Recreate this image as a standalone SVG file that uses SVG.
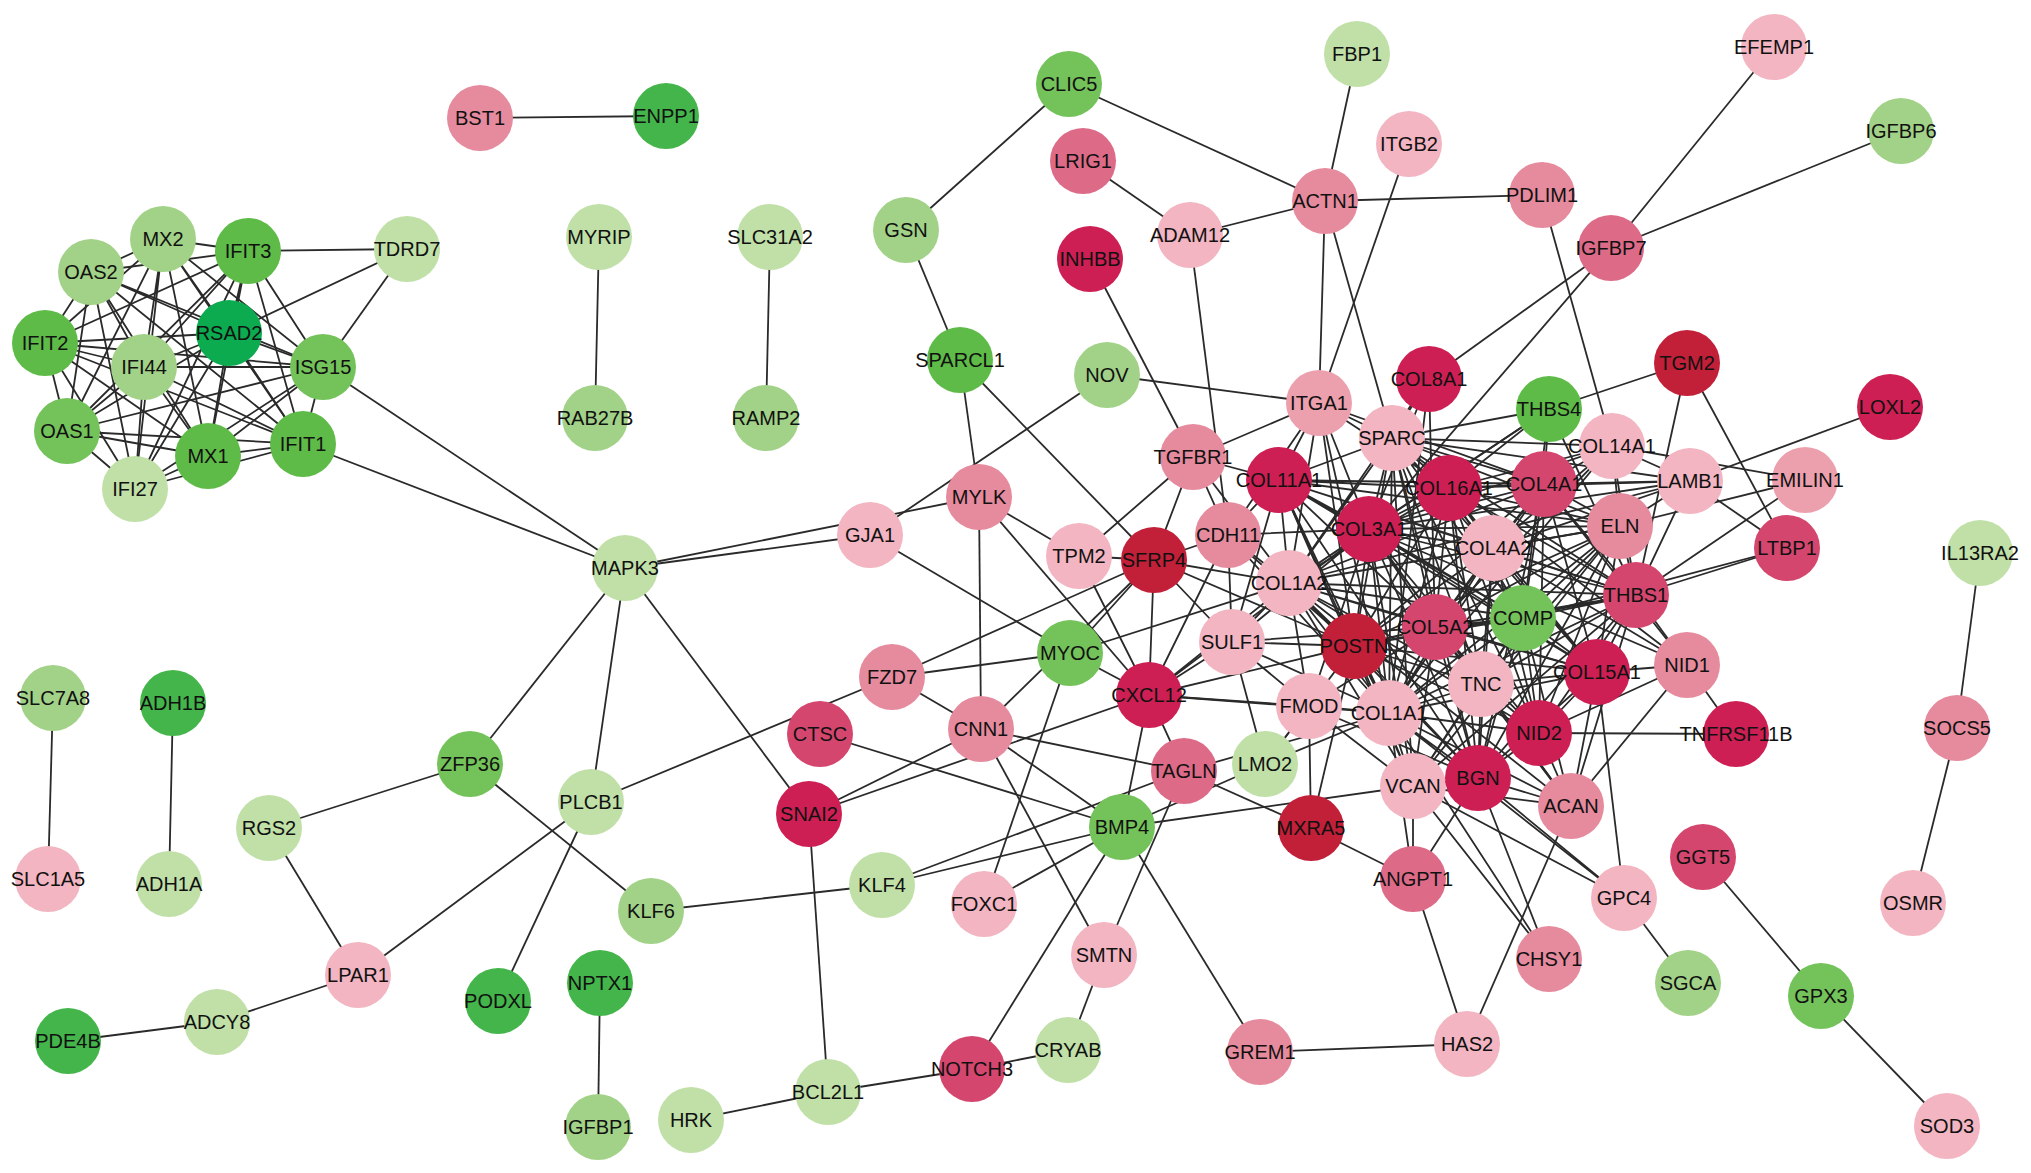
<svg xmlns="http://www.w3.org/2000/svg" width="2031" height="1173" viewBox="0 0 2031 1173">
<style>
#edges path{stroke:#2a2a2a;stroke-width:1.8;fill:none}
.node text{font-family:"Liberation Sans",Arial,sans-serif;font-size:20px;text-anchor:middle;fill:#111}
.g1{fill:#0cab4f}.g2{fill:#43b54a}.g3{fill:#5ebb48}.g4{fill:#74c25a}.g5{fill:#a2d287}.g6{fill:#c0e0a8}
.p1{fill:#f2b5c1}.pb{fill:#eca0ae}.p2{fill:#e68a9d}.p3{fill:#dd6b88}.p4{fill:#d4466d}.p5{fill:#cd1f53}.p6{fill:#c21f38}
</style>
<rect width="2031" height="1173" fill="#fff"/>
<g id="edges">
<path d="M480 118L666 116"/><path d="M599 237L595 418"/><path d="M770 237L766 418"/><path d="M53 698L48 879"/><path d="M173 703L169 884"/><path d="M600 983L598 1127"/><path d="M1980 553L1957 728"/><path d="M1957 728L1913 903"/><path d="M1703 857L1821 996"/><path d="M1821 996L1947 1126"/><path d="M1624 898L1688 983"/>
<path d="M906 230L1069 84"/><path d="M906 230L960 360"/><path d="M1069 84L1325 201"/><path d="M1357 54L1325 201"/><path d="M1083 161L1190 235"/><path d="M1190 235L1325 201"/><path d="M1325 201L1542 195"/><path d="M1409 144L1319 403"/><path d="M1325 201L1319 403"/><path d="M1325 201L1392 438"/><path d="M1090 259L1193 457"/><path d="M1190 235L1228 535"/><path d="M1107 375L1319 403"/><path d="M1107 375L870 535"/>
<path d="M1429 379L1611 248"/><path d="M1611 248L1369 529"/><path d="M1611 248L1774 47"/><path d="M1611 248L1901 131"/><path d="M1542 195L1612 446"/><path d="M1687 363L1549 409"/><path d="M1687 363L1636 595"/><path d="M1687 363L1787 548"/><path d="M1890 407L1690 481"/><path d="M1612 446L1805 480"/><path d="M1612 446L1690 481"/><path d="M1805 480L1620 526"/><path d="M1805 480L1636 595"/><path d="M1690 481L1787 548"/><path d="M1636 595L1787 548"/><path d="M1523 618L1787 548"/><path d="M1687 665L1736 734"/><path d="M1539 733L1736 734"/><path d="M1597 672L1687 665"/><path d="M1636 595L1687 665"/><path d="M1687 665L1539 733"/><path d="M1687 665L1571 806"/><path d="M1597 672L1624 898"/>
<path d="M625 568L323 367"/><path d="M625 568L303 444"/><path d="M625 568L870 535"/><path d="M625 568L979 497"/><path d="M625 568L470 764"/><path d="M625 568L591 802"/><path d="M625 568L809 814"/><path d="M870 535L1070 653"/><path d="M979 497L960 360"/><path d="M979 497L981 729"/><path d="M960 360L1154 560"/><path d="M979 497L1079 556"/><path d="M979 497L1149 695"/><path d="M892 677L1070 653"/><path d="M892 677L1154 560"/><path d="M892 677L981 729"/><path d="M591 802L892 677"/><path d="M820 734L1122 827"/><path d="M981 729L809 814"/><path d="M981 729L1104 955"/><path d="M981 729L1184 771"/><path d="M981 729L1122 827"/><path d="M981 729L1154 560"/>
<path d="M470 764L269 828"/><path d="M470 764L651 911"/><path d="M269 828L358 975"/><path d="M358 975L591 802"/><path d="M358 975L217 1022"/><path d="M217 1022L68 1041"/><path d="M591 802L498 1001"/><path d="M651 911L882 885"/><path d="M882 885L1122 827"/><path d="M882 885L1184 771"/><path d="M809 814L828 1092"/><path d="M828 1092L691 1120"/><path d="M828 1092L972 1069"/><path d="M972 1069L1122 827"/><path d="M1104 955L1068 1050"/><path d="M1068 1050L972 1069"/><path d="M1122 827L1260 1052"/><path d="M1260 1052L1467 1044"/><path d="M1467 1044L1413 879"/><path d="M1467 1044L1571 806"/><path d="M1311 828L1413 879"/><path d="M1413 879L1478 778"/><path d="M1413 879L1413 786"/><path d="M1122 827L1413 786"/><path d="M984 904L1122 827"/><path d="M984 904L1070 653"/><path d="M809 814L1149 695"/><path d="M1122 827L1149 695"/><path d="M1122 827L1265 764"/><path d="M1104 955L1184 771"/><path d="M1311 828L1309 706"/><path d="M1311 828L1354 646"/><path d="M1184 771L1311 828"/>
<path d="M407 249L248 251"/><path d="M407 249L229 333"/><path d="M407 249L323 367"/>
<path d="M163 239L248 251M163 239L91 272M163 239L229 333M163 239L45 343M163 239L144 367M163 239L323 367M163 239L67 431M163 239L208 456M163 239L303 444M163 239L135 489"/>
<path d="M248 251L91 272M248 251L229 333M248 251L45 343M248 251L144 367M248 251L323 367M248 251L67 431M248 251L208 456M248 251L303 444M248 251L135 489"/>
<path d="M91 272L229 333M91 272L45 343M91 272L144 367M91 272L323 367M91 272L67 431M91 272L208 456M91 272L303 444M91 272L135 489"/>
<path d="M229 333L45 343M229 333L144 367M229 333L323 367M229 333L67 431M229 333L208 456M229 333L303 444M229 333L135 489"/>
<path d="M45 343L144 367M45 343L323 367M45 343L67 431M45 343L208 456M45 343L303 444M45 343L135 489"/>
<path d="M144 367L323 367M144 367L67 431M144 367L208 456M144 367L303 444M144 367L135 489"/>
<path d="M323 367L67 431M323 367L208 456M323 367L303 444M323 367L135 489"/>
<path d="M67 431L208 456M67 431L303 444M67 431L135 489M208 456L303 444M208 456L135 489M303 444L135 489"/>
<path d="M1389 713L1289 583M1389 713L1369 529M1389 713L1435 627M1389 713L1354 646M1389 713L1392 438M1389 713L1279 480M1389 713L1449 488M1389 713L1544 484M1389 713L1493 548M1389 713L1636 595M1389 713L1478 778M1389 713L1413 786M1389 713L1523 618M1389 713L1309 706M1389 713L1620 526M1389 713L1481 684M1389 713L1597 672M1389 713L1539 733M1389 713L1571 806M1389 713L1319 403M1389 713L1429 379M1389 713L1612 446M1389 713L1228 535M1389 713L1232 642M1389 713L1149 695M1389 713L1413 879M1389 713L1265 764M1389 713L1184 771M1389 713L1624 898M1389 713L1549 959"/>
<path d="M1289 583L1369 529M1289 583L1435 627M1289 583L1354 646M1289 583L1392 438M1289 583L1279 480M1289 583L1449 488M1289 583L1544 484M1289 583L1493 548M1289 583L1636 595M1289 583L1478 778M1289 583L1413 786M1289 583L1523 618M1289 583L1309 706M1289 583L1620 526M1289 583L1481 684M1289 583L1597 672M1289 583L1539 733M1289 583L1571 806M1289 583L1319 403M1289 583L1429 379M1289 583L1228 535M1289 583L1232 642M1289 583L1149 695M1289 583L1154 560M1289 583L1193 457M1289 583L1549 409M1289 583L1690 481"/>
<path d="M1369 529L1435 627M1369 529L1354 646M1369 529L1392 438M1369 529L1279 480M1369 529L1449 488M1369 529L1544 484M1369 529L1493 548M1369 529L1636 595M1369 529L1478 778M1369 529L1413 786M1369 529L1523 618M1369 529L1309 706M1369 529L1620 526M1369 529L1481 684M1369 529L1597 672M1369 529L1539 733M1369 529L1571 806M1369 529L1319 403M1369 529L1429 379M1369 529L1612 446M1369 529L1228 535M1369 529L1232 642M1369 529L1149 695M1369 529L1690 481M1369 529L1549 409M1369 529L1687 665"/>
<path d="M1435 627L1354 646M1435 627L1392 438M1435 627L1279 480M1435 627L1449 488M1435 627L1544 484M1435 627L1493 548M1435 627L1636 595M1435 627L1478 778M1435 627L1413 786M1435 627L1523 618M1435 627L1309 706M1435 627L1620 526M1435 627L1481 684M1435 627L1597 672M1435 627L1539 733M1435 627L1571 806M1435 627L1429 379M1435 627L1612 446M1435 627L1232 642"/>
<path d="M1354 646L1392 438M1354 646L1279 480M1354 646L1449 488M1354 646L1544 484M1354 646L1493 548M1354 646L1636 595M1354 646L1478 778M1354 646L1413 786M1354 646L1523 618M1354 646L1309 706M1354 646L1620 526M1354 646L1481 684M1354 646L1597 672M1354 646L1539 733M1354 646L1319 403M1354 646L1232 642M1354 646L1149 695M1354 646L1154 560M1354 646L1228 535M1354 646L1265 764"/>
<path d="M1392 438L1279 480M1392 438L1449 488M1392 438L1544 484M1392 438L1493 548M1392 438L1636 595M1392 438L1478 778M1392 438L1413 786M1392 438L1523 618M1392 438L1620 526M1392 438L1481 684M1392 438L1597 672M1392 438L1539 733M1392 438L1319 403M1392 438L1429 379M1392 438L1612 446M1392 438L1549 409M1392 438L1690 481M1392 438L1687 665"/>
<path d="M1279 480L1449 488M1279 480L1544 484M1279 480L1493 548M1279 480L1636 595M1279 480L1478 778M1279 480L1413 786M1279 480L1523 618M1279 480L1620 526M1279 480L1597 672M1279 480L1228 535M1279 480L1232 642M1279 480L1319 403M1279 480L1193 457"/>
<path d="M1449 488L1544 484M1449 488L1493 548M1449 488L1636 595M1449 488L1478 778M1449 488L1523 618M1449 488L1620 526M1449 488L1481 684M1449 488L1597 672M1449 488L1539 733M1449 488L1612 446M1449 488L1690 481M1449 488L1549 409M1449 488L1319 403"/>
<path d="M1544 484L1493 548M1544 484L1636 595M1544 484L1620 526M1544 484L1597 672M1544 484L1539 733M1544 484L1687 665M1544 484L1690 481M1544 484L1612 446M1544 484L1549 409M1544 484L1523 618M1544 484L1478 778M1544 484L1319 403"/>
<path d="M1493 548L1636 595M1493 548L1620 526M1493 548L1597 672M1493 548L1539 733M1493 548L1687 665M1493 548L1690 481M1493 548L1612 446M1493 548L1523 618M1493 548L1478 778M1493 548L1481 684"/>
<path d="M1636 595L1478 778M1636 595L1413 786M1636 595L1523 618M1636 595L1620 526M1636 595L1481 684M1636 595L1597 672M1636 595L1539 733M1636 595L1612 446M1636 595L1690 481M1636 595L1549 409M1636 595L1571 806"/>
<path d="M1478 778L1413 786M1478 778L1523 618M1478 778L1620 526M1478 778L1481 684M1478 778L1597 672M1478 778L1539 733M1478 778L1571 806M1478 778L1624 898M1478 778L1549 959M1478 778L1309 706"/>
<path d="M1413 786L1523 618M1413 786L1620 526M1413 786L1481 684M1413 786L1571 806M1413 786L1624 898M1413 786L1549 959M1413 786L1309 706"/>
<path d="M1523 618L1620 526M1523 618L1481 684M1523 618L1597 672M1523 618L1539 733M1523 618L1571 806M1523 618L1549 409"/>
<path d="M1620 526L1481 684M1620 526L1597 672M1620 526L1539 733M1620 526L1612 446M1620 526L1690 481M1481 684L1597 672M1481 684L1539 733M1481 684L1571 806M1597 672L1539 733M1597 672L1571 806M1539 733L1571 806"/>
<path d="M1228 535L1154 560M1228 535L1232 642M1228 535L1149 695M1228 535L1319 403M1149 695L1232 642M1149 695L1309 706M1149 695L1184 771M1149 695L1154 560M1154 560L1232 642M1154 560L1070 653M1154 560L1079 556M1154 560L1193 457M1232 642L1309 706M1232 642L1265 764M1193 457L1319 403M1193 457L1228 535M1193 457L1079 556M1070 653L1289 583M1070 653L1149 695M1079 556L1149 695M1265 764L1309 706"/>
</g>
<g id="nodes">
<g id="n-BST1" class="node"><circle class="p2" cx="480" cy="118" r="33"/><text x="480" y="125">BST1</text></g>
<g id="n-ENPP1" class="node"><circle class="g2" cx="666" cy="116" r="33"/><text x="666" y="123">ENPP1</text></g>
<g id="n-MX2" class="node"><circle class="g5" cx="163" cy="239" r="33"/><text x="163" y="246">MX2</text></g>
<g id="n-IFIT3" class="node"><circle class="g3" cx="248" cy="251" r="33"/><text x="248" y="258">IFIT3</text></g>
<g id="n-TDRD7" class="node"><circle class="g6" cx="407" cy="249" r="33"/><text x="407" y="256">TDRD7</text></g>
<g id="n-OAS2" class="node"><circle class="g5" cx="91" cy="272" r="33"/><text x="91" y="279">OAS2</text></g>
<g id="n-RSAD2" class="node"><circle class="g1" cx="229" cy="333" r="33"/><text x="229" y="340">RSAD2</text></g>
<g id="n-IFIT2" class="node"><circle class="g3" cx="45" cy="343" r="33"/><text x="45" y="350">IFIT2</text></g>
<g id="n-IFI44" class="node"><circle class="g5" cx="144" cy="367" r="33"/><text x="144" y="374">IFI44</text></g>
<g id="n-ISG15" class="node"><circle class="g4" cx="323" cy="367" r="33"/><text x="323" y="374">ISG15</text></g>
<g id="n-OAS1" class="node"><circle class="g4" cx="67" cy="431" r="33"/><text x="67" y="438">OAS1</text></g>
<g id="n-MX1" class="node"><circle class="g3" cx="208" cy="456" r="33"/><text x="208" y="463">MX1</text></g>
<g id="n-IFIT1" class="node"><circle class="g3" cx="303" cy="444" r="33"/><text x="303" y="451">IFIT1</text></g>
<g id="n-IFI27" class="node"><circle class="g6" cx="135" cy="489" r="33"/><text x="135" y="496">IFI27</text></g>
<g id="n-MYRIP" class="node"><circle class="g6" cx="599" cy="237" r="33"/><text x="599" y="244">MYRIP</text></g>
<g id="n-RAB27B" class="node"><circle class="g5" cx="595" cy="418" r="33"/><text x="595" y="425">RAB27B</text></g>
<g id="n-SLC31A2" class="node"><circle class="g6" cx="770" cy="237" r="33"/><text x="770" y="244">SLC31A2</text></g>
<g id="n-RAMP2" class="node"><circle class="g5" cx="766" cy="418" r="33"/><text x="766" y="425">RAMP2</text></g>
<g id="n-GSN" class="node"><circle class="g5" cx="906" cy="230" r="33"/><text x="906" y="237">GSN</text></g>
<g id="n-SPARCL1" class="node"><circle class="g3" cx="960" cy="360" r="33"/><text x="960" y="367">SPARCL1</text></g>
<g id="n-CLIC5" class="node"><circle class="g4" cx="1069" cy="84" r="33"/><text x="1069" y="91">CLIC5</text></g>
<g id="n-FBP1" class="node"><circle class="g6" cx="1357" cy="54" r="33"/><text x="1357" y="61">FBP1</text></g>
<g id="n-LRIG1" class="node"><circle class="p3" cx="1083" cy="161" r="33"/><text x="1083" y="168">LRIG1</text></g>
<g id="n-ITGB2" class="node"><circle class="p1" cx="1409" cy="144" r="33"/><text x="1409" y="151">ITGB2</text></g>
<g id="n-ACTN1" class="node"><circle class="p2" cx="1325" cy="201" r="33"/><text x="1325" y="208">ACTN1</text></g>
<g id="n-ADAM12" class="node"><circle class="p1" cx="1190" cy="235" r="33"/><text x="1190" y="242">ADAM12</text></g>
<g id="n-INHBB" class="node"><circle class="p5" cx="1090" cy="259" r="33"/><text x="1090" y="266">INHBB</text></g>
<g id="n-PDLIM1" class="node"><circle class="p2" cx="1542" cy="195" r="33"/><text x="1542" y="202">PDLIM1</text></g>
<g id="n-EFEMP1" class="node"><circle class="p1" cx="1774" cy="47" r="33"/><text x="1774" y="54">EFEMP1</text></g>
<g id="n-IGFBP6" class="node"><circle class="g5" cx="1901" cy="131" r="33"/><text x="1901" y="138">IGFBP6</text></g>
<g id="n-IGFBP7" class="node"><circle class="p3" cx="1611" cy="248" r="33"/><text x="1611" y="255">IGFBP7</text></g>
<g id="n-NOV" class="node"><circle class="g5" cx="1107" cy="375" r="33"/><text x="1107" y="382">NOV</text></g>
<g id="n-COL8A1" class="node"><circle class="p5" cx="1429" cy="379" r="33"/><text x="1429" y="386">COL8A1</text></g>
<g id="n-TGM2" class="node"><circle class="p6" cx="1687" cy="363" r="33"/><text x="1687" y="370">TGM2</text></g>
<g id="n-THBS4" class="node"><circle class="g3" cx="1549" cy="409" r="33"/><text x="1549" y="416">THBS4</text></g>
<g id="n-LOXL2" class="node"><circle class="p5" cx="1890" cy="407" r="33"/><text x="1890" y="414">LOXL2</text></g>
<g id="n-ITGA1" class="node"><circle class="pb" cx="1319" cy="403" r="33"/><text x="1319" y="410">ITGA1</text></g>
<g id="n-SPARC" class="node"><circle class="p1" cx="1392" cy="438" r="33"/><text x="1392" y="445">SPARC</text></g>
<g id="n-TGFBR1" class="node"><circle class="p2" cx="1193" cy="457" r="33"/><text x="1193" y="464">TGFBR1</text></g>
<g id="n-COL11A1" class="node"><circle class="p5" cx="1279" cy="480" r="33"/><text x="1279" y="487">COL11A1</text></g>
<g id="n-COL16A1" class="node"><circle class="p5" cx="1449" cy="488" r="33"/><text x="1449" y="495">COL16A1</text></g>
<g id="n-COL4A1" class="node"><circle class="p4" cx="1544" cy="484" r="33"/><text x="1544" y="491">COL4A1</text></g>
<g id="n-COL14A1" class="node"><circle class="p1" cx="1612" cy="446" r="33"/><text x="1612" y="453">COL14A1</text></g>
<g id="n-LAMB1" class="node"><circle class="p1" cx="1690" cy="481" r="33"/><text x="1690" y="488">LAMB1</text></g>
<g id="n-EMILIN1" class="node"><circle class="pb" cx="1805" cy="480" r="33"/><text x="1805" y="487">EMILIN1</text></g>
<g id="n-MYLK" class="node"><circle class="p2" cx="979" cy="497" r="33"/><text x="979" y="504">MYLK</text></g>
<g id="n-GJA1" class="node"><circle class="p1" cx="870" cy="535" r="33"/><text x="870" y="542">GJA1</text></g>
<g id="n-MAPK3" class="node"><circle class="g6" cx="625" cy="568" r="33"/><text x="625" y="575">MAPK3</text></g>
<g id="n-TPM2" class="node"><circle class="p1" cx="1079" cy="556" r="33"/><text x="1079" y="563">TPM2</text></g>
<g id="n-SFRP4" class="node"><circle class="p6" cx="1154" cy="560" r="33"/><text x="1154" y="567">SFRP4</text></g>
<g id="n-CDH11" class="node"><circle class="p2" cx="1228" cy="535" r="33"/><text x="1228" y="542">CDH11</text></g>
<g id="n-COL3A1" class="node"><circle class="p5" cx="1369" cy="529" r="33"/><text x="1369" y="536">COL3A1</text></g>
<g id="n-COL4A2" class="node"><circle class="p1" cx="1493" cy="548" r="33"/><text x="1493" y="555">COL4A2</text></g>
<g id="n-ELN" class="node"><circle class="p2" cx="1620" cy="526" r="33"/><text x="1620" y="533">ELN</text></g>
<g id="n-LTBP1" class="node"><circle class="p4" cx="1787" cy="548" r="33"/><text x="1787" y="555">LTBP1</text></g>
<g id="n-IL13RA2" class="node"><circle class="g6" cx="1980" cy="553" r="33"/><text x="1980" y="560">IL13RA2</text></g>
<g id="n-COL1A2" class="node"><circle class="p1" cx="1289" cy="583" r="33"/><text x="1289" y="590">COL1A2</text></g>
<g id="n-THBS1" class="node"><circle class="p4" cx="1636" cy="595" r="33"/><text x="1636" y="602">THBS1</text></g>
<g id="n-SULF1" class="node"><circle class="p1" cx="1232" cy="642" r="33"/><text x="1232" y="649">SULF1</text></g>
<g id="n-POSTN" class="node"><circle class="p6" cx="1354" cy="646" r="33"/><text x="1354" y="653">POSTN</text></g>
<g id="n-COL5A2" class="node"><circle class="p4" cx="1435" cy="627" r="33"/><text x="1435" y="634">COL5A2</text></g>
<g id="n-COMP" class="node"><circle class="g4" cx="1523" cy="618" r="33"/><text x="1523" y="625">COMP</text></g>
<g id="n-MYOC" class="node"><circle class="g4" cx="1070" cy="653" r="33"/><text x="1070" y="660">MYOC</text></g>
<g id="n-FZD7" class="node"><circle class="p2" cx="892" cy="677" r="33"/><text x="892" y="684">FZD7</text></g>
<g id="n-CXCL12" class="node"><circle class="p5" cx="1149" cy="695" r="33"/><text x="1149" y="702">CXCL12</text></g>
<g id="n-TNC" class="node"><circle class="p1" cx="1481" cy="684" r="33"/><text x="1481" y="691">TNC</text></g>
<g id="n-COL15A1" class="node"><circle class="p5" cx="1597" cy="672" r="33"/><text x="1597" y="679">COL15A1</text></g>
<g id="n-NID1" class="node"><circle class="p2" cx="1687" cy="665" r="33"/><text x="1687" y="672">NID1</text></g>
<g id="n-FMOD" class="node"><circle class="p1" cx="1309" cy="706" r="33"/><text x="1309" y="713">FMOD</text></g>
<g id="n-COL1A1" class="node"><circle class="p1" cx="1389" cy="713" r="33"/><text x="1389" y="720">COL1A1</text></g>
<g id="n-CNN1" class="node"><circle class="p2" cx="981" cy="729" r="33"/><text x="981" y="736">CNN1</text></g>
<g id="n-CTSC" class="node"><circle class="p4" cx="820" cy="734" r="33"/><text x="820" y="741">CTSC</text></g>
<g id="n-NID2" class="node"><circle class="p5" cx="1539" cy="733" r="33"/><text x="1539" y="740">NID2</text></g>
<g id="n-TNFRSF11B" class="node"><circle class="p5" cx="1736" cy="734" r="33"/><text x="1736" y="741">TNFRSF11B</text></g>
<g id="n-SOCS5" class="node"><circle class="p2" cx="1957" cy="728" r="33"/><text x="1957" y="735">SOCS5</text></g>
<g id="n-SLC7A8" class="node"><circle class="g5" cx="53" cy="698" r="33"/><text x="53" y="705">SLC7A8</text></g>
<g id="n-ADH1B" class="node"><circle class="g2" cx="173" cy="703" r="33"/><text x="173" y="710">ADH1B</text></g>
<g id="n-ZFP36" class="node"><circle class="g4" cx="470" cy="764" r="33"/><text x="470" y="771">ZFP36</text></g>
<g id="n-TAGLN" class="node"><circle class="p3" cx="1184" cy="771" r="33"/><text x="1184" y="778">TAGLN</text></g>
<g id="n-LMO2" class="node"><circle class="g6" cx="1265" cy="764" r="33"/><text x="1265" y="771">LMO2</text></g>
<g id="n-VCAN" class="node"><circle class="p1" cx="1413" cy="786" r="33"/><text x="1413" y="793">VCAN</text></g>
<g id="n-BGN" class="node"><circle class="p5" cx="1478" cy="778" r="33"/><text x="1478" y="785">BGN</text></g>
<g id="n-ACAN" class="node"><circle class="p2" cx="1571" cy="806" r="33"/><text x="1571" y="813">ACAN</text></g>
<g id="n-PLCB1" class="node"><circle class="g6" cx="591" cy="802" r="33"/><text x="591" y="809">PLCB1</text></g>
<g id="n-SNAI2" class="node"><circle class="p5" cx="809" cy="814" r="33"/><text x="809" y="821">SNAI2</text></g>
<g id="n-RGS2" class="node"><circle class="g6" cx="269" cy="828" r="33"/><text x="269" y="835">RGS2</text></g>
<g id="n-MXRA5" class="node"><circle class="p6" cx="1311" cy="828" r="33"/><text x="1311" y="835">MXRA5</text></g>
<g id="n-BMP4" class="node"><circle class="g4" cx="1122" cy="827" r="33"/><text x="1122" y="834">BMP4</text></g>
<g id="n-SLC1A5" class="node"><circle class="p1" cx="48" cy="879" r="33"/><text x="48" y="886">SLC1A5</text></g>
<g id="n-ADH1A" class="node"><circle class="g6" cx="169" cy="884" r="33"/><text x="169" y="891">ADH1A</text></g>
<g id="n-KLF4" class="node"><circle class="g6" cx="882" cy="885" r="33"/><text x="882" y="892">KLF4</text></g>
<g id="n-KLF6" class="node"><circle class="g5" cx="651" cy="911" r="33"/><text x="651" y="918">KLF6</text></g>
<g id="n-ANGPT1" class="node"><circle class="p3" cx="1413" cy="879" r="33"/><text x="1413" y="886">ANGPT1</text></g>
<g id="n-GGT5" class="node"><circle class="p4" cx="1703" cy="857" r="33"/><text x="1703" y="864">GGT5</text></g>
<g id="n-FOXC1" class="node"><circle class="p1" cx="984" cy="904" r="33"/><text x="984" y="911">FOXC1</text></g>
<g id="n-GPC4" class="node"><circle class="p1" cx="1624" cy="898" r="33"/><text x="1624" y="905">GPC4</text></g>
<g id="n-OSMR" class="node"><circle class="p1" cx="1913" cy="903" r="33"/><text x="1913" y="910">OSMR</text></g>
<g id="n-LPAR1" class="node"><circle class="p1" cx="358" cy="975" r="33"/><text x="358" y="982">LPAR1</text></g>
<g id="n-SMTN" class="node"><circle class="p1" cx="1104" cy="955" r="33"/><text x="1104" y="962">SMTN</text></g>
<g id="n-CHSY1" class="node"><circle class="p2" cx="1549" cy="959" r="33"/><text x="1549" y="966">CHSY1</text></g>
<g id="n-PODXL" class="node"><circle class="g2" cx="498" cy="1001" r="33"/><text x="498" y="1008">PODXL</text></g>
<g id="n-NPTX1" class="node"><circle class="g2" cx="600" cy="983" r="33"/><text x="600" y="990">NPTX1</text></g>
<g id="n-SGCA" class="node"><circle class="g5" cx="1688" cy="983" r="33"/><text x="1688" y="990">SGCA</text></g>
<g id="n-GPX3" class="node"><circle class="g4" cx="1821" cy="996" r="33"/><text x="1821" y="1003">GPX3</text></g>
<g id="n-PDE4B" class="node"><circle class="g2" cx="68" cy="1041" r="33"/><text x="68" y="1048">PDE4B</text></g>
<g id="n-ADCY8" class="node"><circle class="g6" cx="217" cy="1022" r="33"/><text x="217" y="1029">ADCY8</text></g>
<g id="n-GREM1" class="node"><circle class="p2" cx="1260" cy="1052" r="33"/><text x="1260" y="1059">GREM1</text></g>
<g id="n-HAS2" class="node"><circle class="p1" cx="1467" cy="1044" r="33"/><text x="1467" y="1051">HAS2</text></g>
<g id="n-CRYAB" class="node"><circle class="g6" cx="1068" cy="1050" r="33"/><text x="1068" y="1057">CRYAB</text></g>
<g id="n-NOTCH3" class="node"><circle class="p4" cx="972" cy="1069" r="33"/><text x="972" y="1076">NOTCH3</text></g>
<g id="n-BCL2L1" class="node"><circle class="g6" cx="828" cy="1092" r="33"/><text x="828" y="1099">BCL2L1</text></g>
<g id="n-HRK" class="node"><circle class="g6" cx="691" cy="1120" r="33"/><text x="691" y="1127">HRK</text></g>
<g id="n-IGFBP1" class="node"><circle class="g5" cx="598" cy="1127" r="33"/><text x="598" y="1134">IGFBP1</text></g>
<g id="n-SOD3" class="node"><circle class="p1" cx="1947" cy="1126" r="33"/><text x="1947" y="1133">SOD3</text></g>
</g>
</svg>
